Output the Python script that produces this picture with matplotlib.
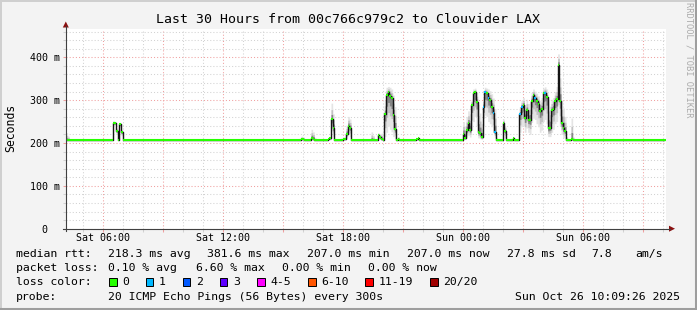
import numpy as np
import matplotlib
matplotlib.use("Agg")
import matplotlib.pyplot as plt
from matplotlib.patches import Rectangle, Polygon

# time axis in hours since Sat 00:00, one RRD step = 5 minutes
step_h = 5 / 60
first_step = 4 + 5 / 60          # Sat 04:05
last_step = 34 + 5 / 60          # Sun 10:05
view_end = 34 + 9.43 / 60        # Sun 10:09:26
base_rtt = 207.0

# bursts above the flat 207 ms floor: start hour, then one value per step
b0_start = 4 + 10 / 60           # Sat 04:10
b0_med = [207, 207]
b0_lo = [207, 207]
b0_hi = [224, 216]

b1_start = 6 + 30 / 60           # Sat 06:30
b1_med = [247, 247, 229, 207, 244, 226]
b1_lo = [241, 242, 222, 207, 237, 217]
b1_hi = [252, 250, 235, 209, 248, 231]

b2_start = 15 + 50 / 60          # Sat 15:50
b2_med = [207, 210, 209, 207, 207, 207, 207, 212, 210, 207]
b2_lo = [207, 207, 207, 207, 207, 207, 207, 207, 207, 207]
b2_hi = [212, 216, 214, 208, 207, 207, 208, 232, 226, 213]

b3_start = 17 + 15 / 60          # Sat 17:15
b3_med = [210, 211, 255, 234, 207, 207, 207, 207, 208, 209, 209, 222, 240, 236, 207]
b3_lo = [207, 207, 228, 216, 207, 207, 207, 207, 207, 207, 207, 210, 220, 215, 207]
b3_hi = [213, 215, 293, 268, 211, 207, 207, 208, 212, 214, 214, 242, 262, 256, 210]

b4_start = 19 + 20 / 60          # Sat 19:20
b4_med = [207, 207, 207, 207, 207, 219, 214, 209, 207, 267, 312, 318, 310, 304, 265, 232, 207, 209]
b4_lo = [207, 207, 207, 207, 207, 210, 208, 207, 207, 215, 225, 240, 232, 226, 215, 210, 207, 207]
b4_hi = [210, 226, 218, 208, 207, 224, 222, 223, 212, 300, 330, 332, 330, 326, 312, 285, 212, 215]

b5_start = 21 + 40 / 60          # Sat 21:40
b5_med = [210, 211]
b5_lo = [207, 207]
b5_hi = [213, 214]

b6_start = 24.0                  # Sun 00:00
b6_med = [222, 212, 230, 246, 230, 289, 317, 318, 296, 226, 223, 215,
          285, 318, 316, 305, 300, 285, 269, 225, 207, 207, 207, 207,
          246, 228, 207, 207, 207, 207, 211, 207, 207, 207, 268, 285,
          289, 258, 276, 254, 254, 299, 312, 304, 299, 290, 275, 280,
          316, 317, 307, 234, 236, 277, 280, 299, 302, 381.6, 299, 247,
          234, 228, 207, 207, 207, 210, 207]
b6_lo = [210, 208, 214, 218, 214, 230, 250, 262, 240, 212, 210, 208,
         240, 265, 262, 250, 245, 238, 225, 212, 207, 207, 207, 207,
         225, 212, 207, 207, 207, 207, 207, 207, 207, 207, 225, 238,
         240, 225, 235, 225, 220, 248, 258, 255, 245, 238, 225, 230,
         250, 255, 245, 215, 215, 225, 232, 245, 250, 290, 240, 220,
         212, 210, 207, 207, 207, 207, 207]
b6_hi = [250, 240, 262, 275, 268, 302, 326, 328, 318, 290, 270, 245,
         305, 330, 328, 326, 322, 315, 305, 280, 212, 207, 207, 207,
         256, 240, 210, 207, 207, 207, 215, 207, 207, 207, 285, 300,
         306, 290, 302, 292, 296, 318, 326, 321, 316, 310, 300, 306,
         328, 331, 326, 302, 286, 302, 306, 320, 332, 408, 352, 300,
         282, 262, 215, 208, 207, 258, 214]
b6_loss = [0, 0, 0, 0, 0, 0, 0, 0, 0, 0, 0, 0,
           1, 1, 0, 1, 0, 0, 1, 1, 0, 0, 0, 0,
           0, 0, 0, 0, 0, 0, 0, 0, 0, 0, 1, 1,
           0, 0, 0, 0, 0, 0, 0, 1, 0, 0, 0, 0,
           0, 1, 0, 0, 0, 0, 0, 0, 0, 0, 0, 0,
           0, 0, 0, 0, 0, 0, 0]

x_ticks = [6, 9, 12, 15, 18, 21, 24, 27, 30, 33]
x_labels = ["Sat 06:00", "", "Sat 12:00", "", "Sat 18:00", "",
            "Sun 00:00", "", "Sun 06:00", ""]
y_ticks = [0, 100, 200, 300, 400]
y_labels = ["0  ", "100 m", "200 m", "300 m", "400 m"]

loss_labels = ["0", "1", "2", "3", "4-5", "6-10", "11-19", "20/20"]
loss_colors = ["#26ff00", "#00b8ff", "#0059ff", "#5e00ff",
               "#ff00ff", "#ff5500", "#ff0000", "#a00000"]

mono = "DejaVu Sans Mono"
plt.rcParams["font.family"] = mono

# assemble the 5 minute series
n = int(round((last_step - first_step) / step_h)) + 1
times = first_step + step_h * np.arange(n)
med = np.full(n, base_rtt)
lo = med.copy()
hi = med.copy()
loss = np.zeros(n, dtype=int)
bursts = [(b0_start, b0_med, b0_lo, b0_hi, None),
          (b1_start, b1_med, b1_lo, b1_hi, None),
          (b2_start, b2_med, b2_lo, b2_hi, None),
          (b3_start, b3_med, b3_lo, b3_hi, None),
          (b4_start, b4_med, b4_lo, b4_hi, None),
          (b5_start, b5_med, b5_lo, b5_hi, None),
          (b6_start, b6_med, b6_lo, b6_hi, b6_loss)]
for start, m, l, h, ls in bursts:
    i = int(round((start - first_step) / step_h))
    med[i:i + len(m)] = m
    lo[i:i + len(l)] = l
    hi[i:i + len(h)] = h
    if ls is not None:
        loss[i:i + len(ls)] = ls

W, H = 697, 310
fig = plt.figure(figsize=(W / 100, H / 100), dpi=100, facecolor="#f3f3f3")

px_left, px_bottom, px_w, px_h = 65.8, 228.7, 600, 200
ax = fig.add_axes([px_left / W, (H - px_bottom) / H, px_w / W, px_h / H])
ax.set_facecolor("white")
ax.set_xlim(view_end - 30, view_end)
ax.set_ylim(0, px_h / 0.4285)
for s in ax.spines.values():
    s.set_visible(False)

# smoke: nested grey bands, darker towards the median
for frac, col in [(1.0, "#e4e4e4"), (0.6, "#c2c2c2"), (0.3, "#858585")]:
    ax.fill_between(times, med - frac * (med - lo), med + frac * (hi - med),
                    step="post", color=col, lw=0, zorder=2)

ax.step(times, med, where="post", color="#141414", lw=1.0, zorder=3)
seg = ax.hlines(med, times, times + step_h, colors=[loss_colors[k] for k in loss],
                lw=1.5, zorder=4)
seg.set_capstyle("butt")

ax.set_xticks(x_ticks)
ax.set_xticklabels(x_labels)
ax.set_xticks(np.arange(5, 35, 1), minor=True)
ax.set_yticks(y_ticks)
ax.set_yticklabels(y_labels)
ax.set_yticks(np.arange(0, 466, 20), minor=True)
ax.set_axisbelow(True)
ax.grid(which="major", color="#f0a0a0", lw=0.75, ls=(0, (1, 2)))
ax.grid(which="minor", color="#d2d2d2", lw=0.75, ls=(0, (1, 2)))
ax.tick_params(which="major", color="#f0a0a0", length=2.2, width=0.75,
               labelsize=7.2, labelcolor="black")
ax.tick_params(which="minor", color="#d2d2d2", length=2.2, width=0.75)
ax.tick_params(axis="x", which="major", pad=0.8)
ax.tick_params(axis="y", which="major", pad=1.8)

# overlay in pixel coordinates for frame, axis arrows and legend
ov = fig.add_axes([0, 0, 1, 1], zorder=5)
ov.set_xlim(0, W)
ov.set_ylim(H, 0)
ov.axis("off")
ov.patch.set_alpha(0)

ov.plot([0, W], [0.8, 0.8], color="#cfcfcf", lw=1.4)
ov.plot([0.8, 0.8], [0, H], color="#cfcfcf", lw=1.4)
ov.plot([W - 1.5, W - 1.5], [0, H], color="#9e9e9e", lw=2.2)
ov.plot([0, W], [H - 1.5, H - 1.5], color="#9e9e9e", lw=2.2)

axis_col = "#404040"
arrow_col = "#8b1010"
ov.plot([px_left, px_left], [px_bottom + 2.5, 26], color=axis_col, lw=0.8)
ov.plot([px_left - 2.5, 670], [px_bottom, px_bottom], color=axis_col, lw=0.8)
ov.add_patch(Polygon([[px_left - 3, 27.5], [px_left + 3, 27.5], [px_left, 21.5]],
                     closed=True, color=arrow_col, lw=0))
ov.add_patch(Polygon([[669, px_bottom - 3], [669, px_bottom + 3], [675, px_bottom]],
                     closed=True, color=arrow_col, lw=0))

ov.text(348, 19.5, "Last 30 Hours from 00c766c979c2 to Clouvider LAX",
        fontsize=9.5, ha="center", va="center")
ov.text(11, 127.5, "Seconds", fontsize=8.3, rotation=90, ha="center", va="center")
ov.text(688.5, 60, "RRDTOOL / TOBI OETIKER", fontsize=6.3, rotation=270,
        color="#ababab", ha="center", va="center")

fs = 8.25
row_y = [254.3, 268.3, 282.3, 296.5]
ov.text(16, row_y[0], "median rtt:", fontsize=fs, va="center")
for x, s in [(107.6, "218.3 ms avg"), (207.1, "381.6 ms max"), (306.7, "207.0 ms min"),
             (406.7, "207.0 ms now"), (506.7, "27.8 ms sd"), (591.1, "7.8"),
             (635.6, "am/s")]:
    ov.text(x, row_y[0], s, fontsize=fs, va="center")

ov.text(16, row_y[1], "packet loss:", fontsize=fs, va="center")
for x, s in [(107.6, "0.10 % avg"), (195.5, "6.60 % max"), (281.5, "0.00 % min"),
             (367.5, "0.00 % now")]:
    ov.text(x, row_y[1], s, fontsize=fs, va="center")

ov.text(16, row_y[2], "loss color:", fontsize=fs, va="center")
box_x = [108.9, 145.8, 182.7, 219.6, 256.9, 308.0, 365.3, 430.2]
for bx, lab, col in zip(box_x, loss_labels, loss_colors):
    ov.add_patch(Rectangle((bx, row_y[2] - 4), 7.6, 8, facecolor=col,
                           edgecolor="black", lw=0.7))
    ov.text(bx + 13.3, row_y[2], lab, fontsize=fs, va="center")

ov.text(16, row_y[3], "probe:", fontsize=fs, va="center")
ov.text(107.6, row_y[3], "20 ICMP Echo Pings (56 Bytes) every 300s", fontsize=fs, va="center")
ov.text(680, row_y[3], "Sun Oct 26 10:09:26 2025", fontsize=fs, va="center", ha="right")

fig.savefig("out.png", dpi=100, facecolor=fig.get_facecolor())
